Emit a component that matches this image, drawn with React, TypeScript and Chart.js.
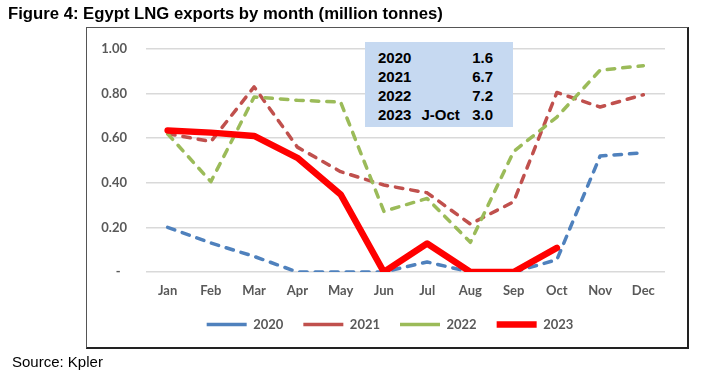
import React, { useEffect, useRef } from "react";
import { Chart, registerables } from "chart.js";

Chart.register(...registerables);

const months = ["Jan", "Feb", "Mar", "Apr", "May", "Jun", "Jul", "Aug", "Sep", "Oct", "Nov", "Dec"];
const yTicks = [0, 0.2, 0.4, 0.6, 0.8, 1.0];

const s2020 = [0.2, 0.13, 0.07, 0, 0, 0, 0.045, 0, 0, 0.055, 0.52, 0.535];
const s2021 = [0.62, 0.585, 0.83, 0.56, 0.45, 0.39, 0.355, 0.215, 0.315, 0.805, 0.74, 0.795];
const s2022 = [0.62, 0.405, 0.785, 0.77, 0.762, 0.272, 0.33, 0.133, 0.54, 0.695, 0.905, 0.925];
const s2023 = [0.635, 0.625, 0.61, 0.512, 0.348, 0, 0.128, 0, 0, 0.108];

const boxYears = ["2020", "2021", "2022", "2023"];
const boxPeriods = ["", "", "", "J-Oct"];
const boxTotals = ["1.6", "6.7", "7.2", "3.0"];

const tickFont = { family: "Lato", size: 13, weight: "bold" as const };
const gray = "#595959";

const legendShift = {
  id: "legendShift",
  afterLayout(chart: any) {
    if (chart.legend) {
      chart.legend.left += 14;
      chart.legend.right += 14;
    }
  },
};

export default function App() {
  const ref = useRef<HTMLCanvasElement>(null);
  useEffect(() => {
    if (!ref.current) return;
    const dashed = (label: string, data: number[], color: string, order: number) => ({
      label,
      data,
      borderColor: color,
      backgroundColor: color,
      borderWidth: 3.5,
      borderDash: [7.5, 8],
      borderCapStyle: "round" as const,
      borderJoinStyle: "round" as const,
      pointRadius: 0,
      tension: 0,
      order,
    });
    const chart = new Chart(ref.current, {
      type: "line",
      plugins: [legendShift],
      data: {
        labels: months,
        datasets: [
          dashed("2020", s2020, "#4F81BD", 4),
          dashed("2021", s2021, "#C0504D", 3),
          dashed("2022", s2022, "#9BBB59", 2),
          {
            label: "2023",
            data: s2023,
            borderColor: "#FF0000",
            backgroundColor: "#FF0000",
            borderWidth: 6.5,
            borderCapStyle: "round",
            borderJoinStyle: "round",
            pointRadius: 0,
            tension: 0,
            order: 1,
          },
        ],
      },
      options: {
        animation: false,
        responsive: false,
        maintainAspectRatio: false,
        layout: { padding: { top: 21, right: 22, bottom: 6, left: 0 } },
        scales: {
          x: {
            offset: true,
            grid: { display: false, drawTicks: false },
            border: { display: false },
            ticks: { font: tickFont, color: gray, padding: 11, maxRotation: 0, autoSkip: false },
            afterFit: (s: any) => {
              s.height = 26;
            },
          },
          y: {
            min: 0,
            max: 1,
            afterBuildTicks: (s: any) => {
              s.ticks = yTicks.map((v) => ({ value: v }));
            },
            grid: { color: "#D9D9D9", lineWidth: 1.5, drawTicks: false },
            border: { display: false },
            ticks: {
              font: tickFont,
              color: gray,
              padding: 19,
              callback: (v: any) => (Number(v) === 0 ? "-  " : Number(v).toFixed(2)),
            },
            afterFit: (s: any) => {
              s.width = 59;
              s.paddingTop = 0;
              s.paddingBottom = 0;
            },
          },
        },
        plugins: {
          legend: {
            position: "bottom",
            labels: {
              usePointStyle: true,
              pointStyle: "line",
              pointStyleWidth: 40,
              boxWidth: 40,
              boxHeight: 13,
              padding: 20,
              font: tickFont,
              color: gray,
              sort: (a: any, b: any) => a.datasetIndex - b.datasetIndex,
            },
          },
          tooltip: { enabled: false },
        },
      },
    });
    return () => chart.destroy();
  }, []);

  const rowTops = [50, 69, 88, 107];
  return (
    <div>
      <div
        style={{
          position: "fixed",
          left: 8,
          top: 6,
          font: "bold 16.7px 'Liberation Sans', Arial, sans-serif",
          lineHeight: "16px",
          color: "#000",
          whiteSpace: "nowrap",
        }}
      >
        Figure 4: Egypt LNG exports by month (million tonnes)
      </div>
      <div
        style={{
          position: "fixed",
          left: 86,
          top: 27,
          width: 600,
          height: 319,
          borderLeft: "1px solid #555",
          borderTop: "1px solid #555",
          borderRight: "2px solid #222",
          borderBottom: "2px solid #222",
          background: "#fff",
        }}
      />
      <canvas
        ref={ref}
        width={600}
        height={319}
        style={{ position: "fixed", left: 87, top: 28, width: 600, height: 319 }}
      />
      <div
        style={{
          position: "fixed",
          left: 365,
          top: 42,
          width: 148,
          height: 85,
          background: "#C6D9F1",
        }}
      />
      {boxYears.map((y, i) => (
        <React.Fragment key={y}>
          <span style={boxText(378, rowTops[i])}>{y}</span>
          <span style={boxText(421.5, rowTops[i])}>{boxPeriods[i]}</span>
          <span style={{ ...boxText(0, rowTops[i]), left: undefined, right: 723 - 493, textAlign: "right" }}>
            {boxTotals[i]}
          </span>
        </React.Fragment>
      ))}
      <div
        style={{
          position: "fixed",
          left: 12,
          top: 354,
          font: "15px 'Liberation Sans', Arial, sans-serif",
          lineHeight: "15px",
          color: "#000",
        }}
      >
        Source: Kpler
      </div>
    </div>
  );
}

function boxText(left: number, top: number): React.CSSProperties {
  return {
    position: "fixed",
    left,
    top,
    font: "bold 15px 'Liberation Sans', Arial, sans-serif",
    lineHeight: "15px",
    color: "#000",
    whiteSpace: "nowrap",
  };
}
